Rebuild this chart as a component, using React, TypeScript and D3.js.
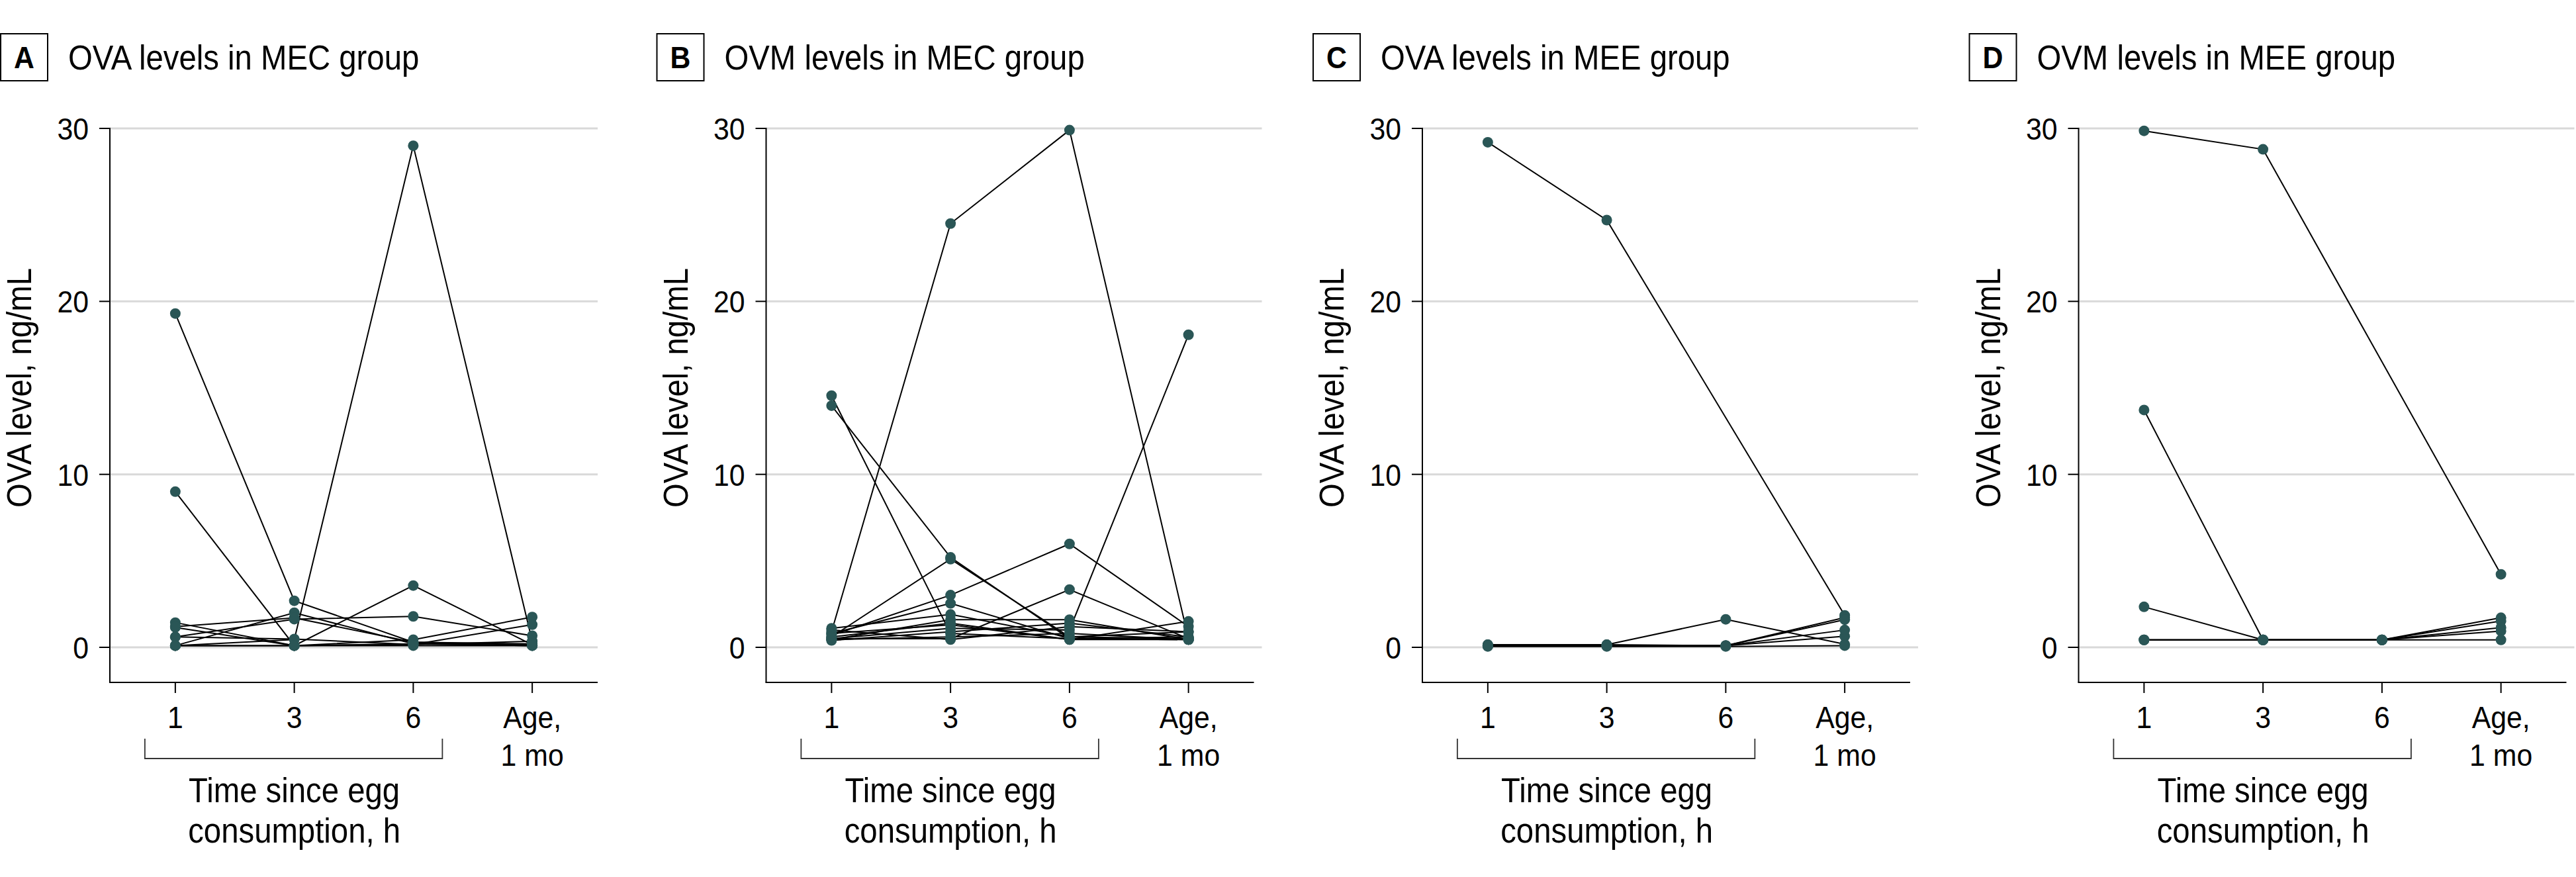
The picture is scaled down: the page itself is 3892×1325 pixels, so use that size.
import React from "react";
import * as d3 from "d3";

const categories = ["1", "3", "6", "Age"];
const tickLabels = [["1"], ["3"], ["6"], ["Age,", "1 mo"]];
const yTicks = [0, 10, 20, 30];
const panelLetters = ["A", "B", "C", "D"];
const panelTitles = [
  "OVA levels in MEC group",
  "OVM levels in MEC group",
  "OVA levels in MEE group",
  "OVM levels in MEE group",
];
const yLabel = "OVA level, ng/mL";
const xTitle = ["Time since egg", "consumption, h"];

// each row = one infant: values at 1 h, 3 h, 6 h, age 1 mo (null = missing)
const panelA: (number | null)[][] = [
  [19.3, 2.69, 0.3, 0.15],
  [9.0, 0.1, 0.2, 0.1],
  [0.1, 0.45, 29.0, 0.35],
  [0.1, 0.1, 3.57, 0.15],
  [0.6, 1.63, 1.79, 0.67],
  [0.1, 2.0, 0.2, 0.1],
  [1.43, 0.1, 0.44, 1.75],
  [1.15, 0.1, 0.16, 1.31],
  [0.6, 0.48, 0.16, 0.35],
  [1.2, 1.7, 0.3, 0.2],
  [0.1, 0.1, 0.1, 0.1],
];
const panelB: (number | null)[][] = [
  [0.9, 24.5, 29.9, 0.5],
  [14.55, 0.8, 0.5, 0.6],
  [13.97, 5.2, 0.5, 0.45],
  [0.6, 5.1, 0.6, 0.5],
  [0.7, 3.02, 5.98, 1.2],
  [0.5, 0.5, 3.34, 0.5],
  [0.8, 2.54, 0.5, 0.45],
  [0.5, 1.1, 1.0, 18.07],
  [1.1, 1.9, 0.6, 0.9],
  [0.45, 1.6, 1.6, 0.45],
  [0.8, 1.3, 0.45, 1.5],
  [0.4, 0.9, 1.4, 0.6],
  [1.0, 0.45, 1.2, 0.9],
  [0.45, 0.6, 0.8, 0.45],
  [0.6, 1.4, 0.45, 0.45],
];
const panelC: (number | null)[][] = [
  [29.2, 24.7, null, 1.85],
  [0.15, 0.15, 1.62, 0.18],
  [0.1, 0.1, 0.1, 1.72],
  [0.1, 0.1, 0.1, 1.6],
  [0.15, 0.15, 0.1, 0.64],
  [0.1, 0.1, 0.1, 1.0],
  [0.05, 0.05, 0.05, 0.1],
];
const panelD: (number | null)[][] = [
  [29.86, 28.79, null, 4.22],
  [13.72, 0.43, 0.43, 1.71],
  [2.34, 0.43, 0.43, 1.52],
  [0.43, 0.43, 0.43, 1.14],
  [0.43, 0.43, 0.43, 0.94],
  [0.43, 0.43, 0.43, 0.43],
];
const panels = [panelA, panelB, panelC, panelD];

const FONT = "'Liberation Sans', Arial, sans-serif";
const SX = 0.91;
const DOT = "#2a5656";

const AXIS_X = 166;
const AXIS_END = 903;
const AXIS_Y = 1031;
const PANEL_STEP = 991.5;

const x = d3.scalePoint<string>().domain(categories).range([AXIS_X, AXIS_END]).padding(0.55);
const y = d3.scaleLinear().domain([0, 30]).range([978, 194]);

function T({ x: tx, y: ty, anchor = "start", size, weight = "normal", rotate = 0, children }: any) {
  return (
    <g transform={`translate(${tx},${ty}) rotate(${rotate}) scale(${SX},1)`}>
      <text textAnchor={anchor} fontSize={size} fontWeight={weight} fontFamily={FONT} fill="#000">
        {children}
      </text>
    </g>
  );
}

function Panel({ idx }: { idx: number }) {
  const data = panels[idx];
  const line = d3
    .line<{ c: string; v: number }>()
    .x((d) => x(d.c) as number)
    .y((d) => y(d.v));
  const gridEnd = idx === 0 ? AXIS_END : AXIS_END + 12;
  const xs = categories.map((c) => x(c) as number);
  return (
    <g transform={`translate(${idx * PANEL_STEP},0)`}>
      {/* title */}
      <rect x={1} y={51} width={71} height={71} fill="none" stroke="#000" strokeWidth={2} />
      <T x={36.5} y={103} anchor="middle" size={47} weight="bold">
        {panelLetters[idx]}
      </T>
      <T x={103} y={105} size={52}>
        {panelTitles[idx]}
      </T>
      {/* grid */}
      {yTicks.map((t) => (
        <line key={t} x1={AXIS_X} x2={gridEnd} y1={y(t)} y2={y(t)} stroke="#d9d9d9" strokeWidth={3} />
      ))}
      {/* series */}
      {data.map((row, i) => {
        const pts = row
          .map((v, j) => ({ c: categories[j], v: v as number }))
          .filter((d) => d.v != null);
        return <path key={i} d={line(pts) || ""} fill="none" stroke="#000" strokeWidth={2} />;
      })}
      {data.map((row, i) =>
        row.map((v, j) =>
          v == null ? null : (
            <circle key={`${i}-${j}`} cx={x(categories[j]) as number} cy={y(v)} r={8} fill={DOT} />
          )
        )
      )}
      {/* y axis */}
      <line x1={AXIS_X} x2={AXIS_X} y1={y(30) - 1} y2={AXIS_Y} stroke="#000" strokeWidth={2} />
      {yTicks.map((t) => (
        <g key={t}>
          <line x1={AXIS_X - 16} x2={AXIS_X} y1={y(t)} y2={y(t)} stroke="#000" strokeWidth={2} />
          <T x={AXIS_X - 32} y={y(t) + 17} anchor="end" size={47}>
            {t}
          </T>
        </g>
      ))}
      <T x={47} y={(y(0) + y(30)) / 2} anchor="middle" size={52} rotate={-90}>
        {yLabel}
      </T>
      {/* x axis */}
      <line x1={AXIS_X - 1} x2={AXIS_END} y1={AXIS_Y} y2={AXIS_Y} stroke="#000" strokeWidth={2} />
      {categories.map((c, j) => (
        <g key={c}>
          <line x1={xs[j]} x2={xs[j]} y1={AXIS_Y} y2={AXIS_Y + 16} stroke="#000" strokeWidth={2} />
          {tickLabels[j].map((s, k) => (
            <T key={k} x={xs[j]} y={1100 + k * 57} anchor="middle" size={47}>
              {s}
            </T>
          ))}
        </g>
      ))}
      {/* bracket */}
      <path
        d={`M${xs[0] - 46},1116 V1146 H${xs[2] + 44} V1116`}
        fill="none"
        stroke="#333"
        strokeWidth={1.8}
      />
      {xTitle.map((s, k) => (
        <T key={k} x={xs[1]} y={1212 + k * 61} anchor="middle" size={52}>
          {s}
        </T>
      ))}
    </g>
  );
}

export default function App() {
  React.useEffect(() => {
    document.body.style.margin = "0";
  }, []);
  return (
    <svg
      width={3892}
      height={1325}
      viewBox="0 0 3892 1325"
      style={{ position: "absolute", left: 0, top: 0, display: "block", background: "#fff" }}
    >
      <rect width={3892} height={1325} fill="#fff" />
      {panels.map((_, i) => (
        <Panel key={i} idx={i} />
      ))}
    </svg>
  );
}
